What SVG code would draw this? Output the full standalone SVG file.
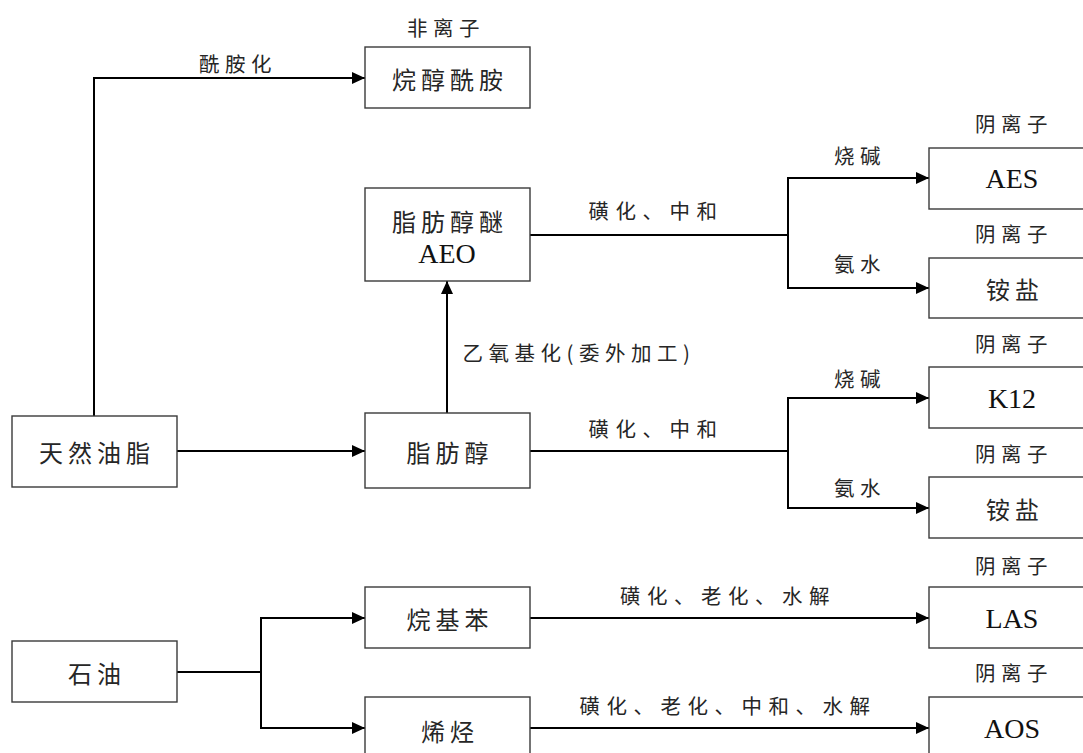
<svg xmlns="http://www.w3.org/2000/svg" width="1083" height="753" viewBox="0 0 1083 753">
<style>
.box{fill:#fff;stroke:#3a3a3a;stroke-width:1.4}
.cn{font-family:"Noto Sans CJK SC","Noto Sans",sans-serif;fill:#262626;text-anchor:middle;dominant-baseline:central}
.big{font-size:24px;letter-spacing:5px}
.sm{font-size:20.5px;letter-spacing:5.5px}
.wide{letter-spacing:6.5px}
.lat{font-family:"Liberation Serif",serif;font-size:28px;fill:#111;text-anchor:middle;dominant-baseline:central}
.ln{fill:none;stroke:#000;stroke-width:2}
.arr{marker-end:url(#ah)}
</style>
<defs>
<marker id="ah" markerUnits="userSpaceOnUse" markerWidth="14" markerHeight="12" refX="13" refY="6" orient="auto">
<path d="M0,0 L13,6 L0,12 z" fill="#000"/>
</marker>
</defs>
<rect width="1083" height="753" fill="#fff"/>
<g id="connectors">
<path class="ln arr" d="M94,416 V78 H365"/>
<path class="ln arr" d="M177,451 H365"/>
<path class="ln arr" d="M447,413 V281"/>
<path class="ln" d="M530,235 H788"/>
<path class="ln arr" d="M788,235 V178 H929"/>
<path class="ln arr" d="M788,235 V288 H929"/>
<path class="ln" d="M530,451 H788"/>
<path class="ln arr" d="M788,451 V398 H929"/>
<path class="ln arr" d="M788,451 V508 H929"/>
<path class="ln" d="M177,672 H261"/>
<path class="ln arr" d="M261,672 V618 H365"/>
<path class="ln arr" d="M261,672 V728 H365"/>
<path class="ln arr" d="M530,618 H929"/>
<path class="ln arr" d="M530,728 H929"/>
</g>
<g id="edge-labels">
<text class="cn sm" x="238" y="63">酰胺化</text>
<text class="cn sm wide" x="656" y="210">磺化、中和</text>
<text class="cn sm" x="860" y="155">烧碱</text>
<text class="cn sm" x="860" y="263">氨水</text>
<text class="cn sm" x="579" y="352">乙氧基化(委外加工)</text>
<text class="cn sm wide" x="656" y="428">磺化、中和</text>
<text class="cn sm" x="860" y="378">烧碱</text>
<text class="cn sm" x="860" y="487">氨水</text>
<text class="cn sm wide" x="728" y="595">磺化、老化、水解</text>
<text class="cn sm wide" x="728" y="705">磺化、老化、中和、水解</text>
</g>
<g id="n-alkanolamide">
<text class="cn sm" x="446" y="27">非离子</text>
<rect class="box" x="365" y="47" width="165" height="61"/>
<text class="cn big" x="450" y="78">烷醇酰胺</text>
</g>
<g id="n-aeo">
<rect class="box" x="365" y="188" width="165" height="93"/>
<text class="cn big" x="450" y="220">脂肪醇醚</text>
<text class="lat" x="447" y="253">AEO</text>
</g>
<g id="n-natural-oil">
<rect class="box" x="12" y="416" width="165" height="71"/>
<text class="cn big" x="97" y="451">天然油脂</text>
</g>
<g id="n-fatty-alcohol">
<rect class="box" x="365" y="413" width="165" height="75"/>
<text class="cn big" x="450" y="451">脂肪醇</text>
</g>
<g id="n-petroleum">
<rect class="box" x="12" y="641" width="165" height="61"/>
<text class="cn big" x="97" y="672">石油</text>
</g>
<g id="n-alkylbenzene">
<rect class="box" x="365" y="587" width="165" height="61"/>
<text class="cn big" x="450" y="618">烷基苯</text>
</g>
<g id="n-olefin">
<rect class="box" x="365" y="697" width="165" height="70"/>
<text class="cn big" x="450" y="730">烯烃</text>
</g>
<g id="n-aes">
<text class="cn sm" x="1014" y="123">阴离子</text>
<rect class="box" x="929" y="148" width="166" height="61"/>
<text class="lat" x="1012" y="178">AES</text>
</g>
<g id="n-ammonium1">
<text class="cn sm" x="1014" y="233">阴离子</text>
<rect class="box" x="929" y="258" width="166" height="60"/>
<text class="cn big" x="1015" y="288">铵盐</text>
</g>
<g id="n-k12">
<text class="cn sm" x="1014" y="343">阴离子</text>
<rect class="box" x="929" y="367" width="166" height="61"/>
<text class="lat" x="1012" y="398">K12</text>
</g>
<g id="n-ammonium2">
<text class="cn sm" x="1014" y="453">阴离子</text>
<rect class="box" x="929" y="477" width="166" height="61"/>
<text class="cn big" x="1015" y="508">铵盐</text>
</g>
<g id="n-las">
<text class="cn sm" x="1014" y="565">阴离子</text>
<rect class="box" x="929" y="587" width="166" height="61"/>
<text class="lat" x="1012" y="618">LAS</text>
</g>
<g id="n-aos">
<text class="cn sm" x="1014" y="672">阴离子</text>
<rect class="box" x="929" y="697" width="166" height="70"/>
<text class="lat" x="1012" y="728">AOS</text>
</g>
</svg>
